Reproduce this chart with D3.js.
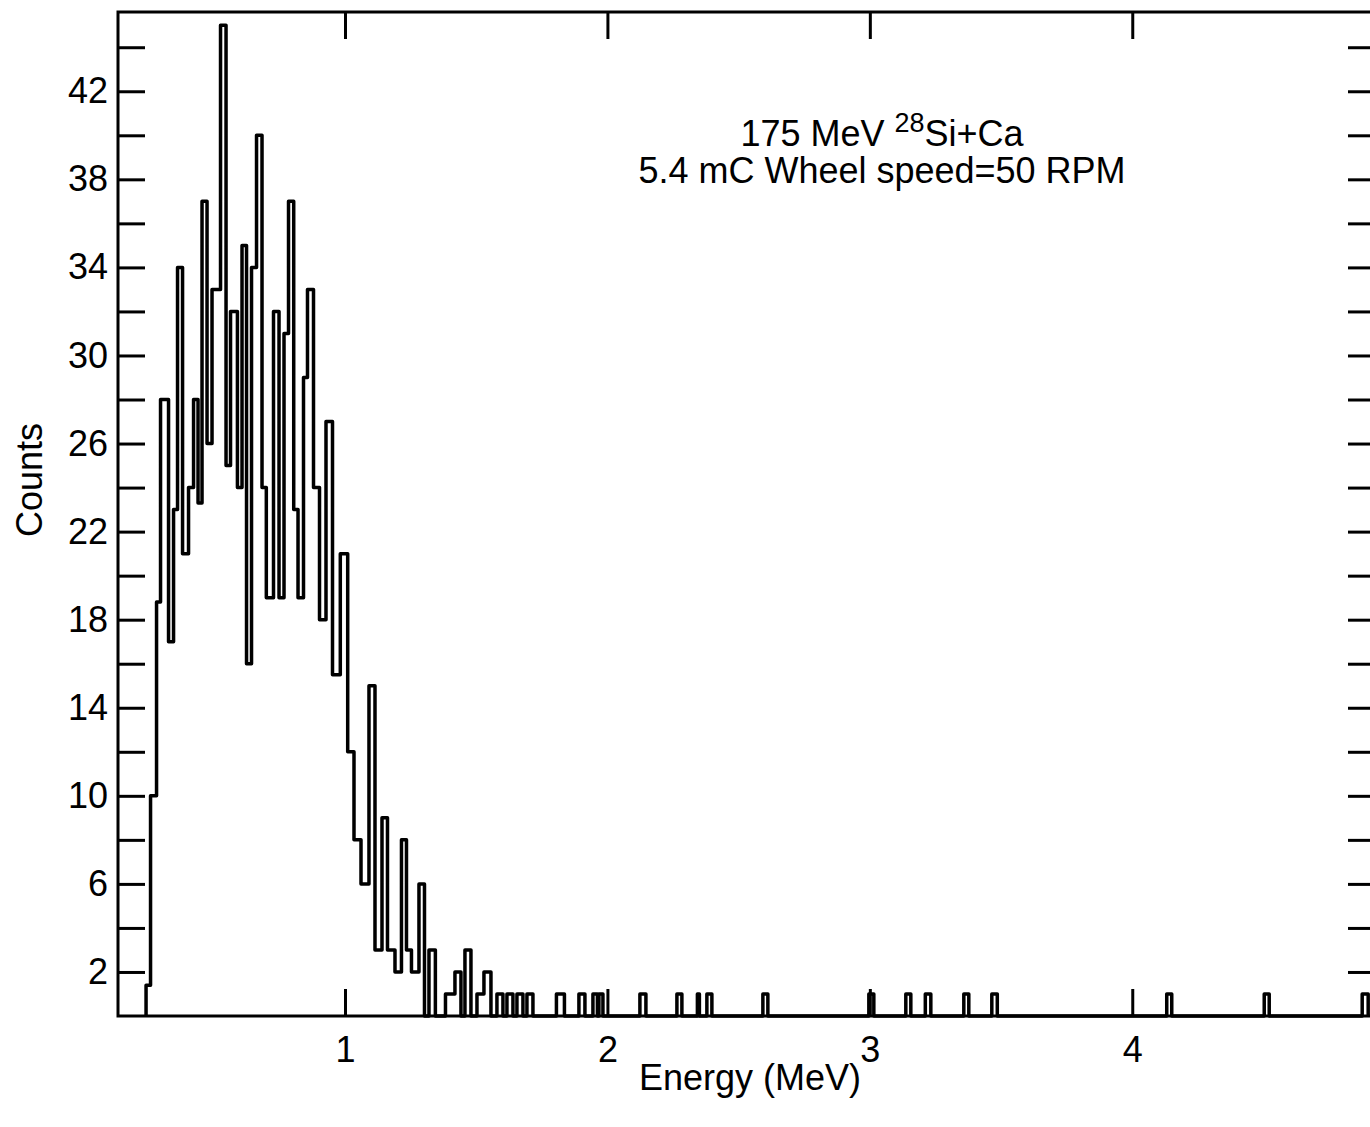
<!DOCTYPE html>
<html>
<head>
<meta charset="utf-8">
<script src="https://cdn.jsdelivr.net/npm/d3@7"></script>
<style>
  html, body { margin: 0; padding: 0; background: #fff; }
  svg { display: block; }
  text { font-family: "Liberation Sans", Arial, Helvetica, sans-serif; fill: #000; }
</style>
</head>
<body>
<svg id="chart" width="1370" height="1127"></svg>
<script>
// ---- Data -------------------------------------------------------------
// Main body of the spectrum: contiguous bins, left edges in MeV (last entry closes the last bin)
const bulkEdges = [
  0.2419, 0.2590, 0.2819, 0.2971, 0.3276, 0.3467, 0.3619, 0.3810, 0.4038, 0.4229,
  0.4400, 0.4552, 0.4743, 0.4933, 0.5257, 0.5467, 0.5638, 0.5901, 0.6076, 0.6248,
  0.6438, 0.6629, 0.6838, 0.7002, 0.7276, 0.7486, 0.7676, 0.7848, 0.8046, 0.8210,
  0.8419, 0.8571, 0.8800, 0.9029, 0.9276, 0.9524, 0.9821, 1.0103, 1.0343, 1.0610,
  1.0914, 1.1143, 1.1410, 1.1619, 1.1905, 1.2152, 1.2343, 1.2533, 1.2819, 1.3029,
  1.3200, 1.3444, 1.3829, 1.4190, 1.4419, 1.4571, 1.4800, 1.5029, 1.5295, 1.5562
];
const bulkCounts = [
  1.4, 10, 18.8, 28, 17, 23, 34, 21, 24, 28,
  23.3, 37, 26, 33, 45, 25, 32, 24, 35, 16,
  34, 40, 24, 19, 32, 19, 31, 37, 23, 19,
  29, 33, 24, 18, 27, 15.5, 21, 12, 8, 6,
  15, 3, 9, 3, 2, 8, 3, 2, 6, 0,
  3, 0, 1, 2, 0, 3, 0, 1, 2
];

// High-energy tail: isolated bins (low edge, high edge, counts)
const tailLo = [1.5790, 1.6171, 1.6552, 1.6933, 1.8057, 1.8914, 1.9448, 1.9676, 2.1238, 2.2648,
                2.3429, 2.3790, 2.5924, 2.9962, 3.1371, 3.2114, 3.3581, 3.4648, 4.1314, 4.5029, 4.8762];
const tailHi = [1.6019, 1.6400, 1.6781, 1.7162, 1.8362, 1.9143, 1.9619, 1.9829, 2.1467, 2.2838,
                2.3505, 2.3981, 2.6114, 3.0152, 3.1562, 3.2324, 3.3771, 3.4857, 4.1505, 4.5219, 4.8990];
const tailCounts = [1, 1, 1, 1, 1, 1, 1, 1, 1, 1,
                    1, 1, 1, 1, 1, 1, 1, 1, 1, 1, 1];

// Axis ranges and ticks
const energyRange = [0.135, 4.925];
const countRange = [0, 45.6];
const xTicks = [1, 2, 3, 4];
const yTicks = [2, 4, 6, 8, 10, 12, 14, 16, 18, 20, 22, 24, 26, 28, 30, 32, 34, 36, 38, 40, 42, 44];
const yTickLabels = [2, 6, 10, 14, 18, 22, 26, 30, 34, 38, 42];

const titleLine1 = ["175 MeV ", "28", "Si+Ca"];
const titleLine2 = "5.4 mC Wheel speed=50 RPM";
const xTitle = "Energy (MeV)";
const yTitle = "Counts";

// ---- Layout -----------------------------------------------------------
const frame = { left: 118, right: 1375, top: 12, bottom: 1016 };
const tickLen = 27;
const ink = "#000";

const svg = d3.select("#chart");

const x = d3.scaleLinear().domain(energyRange).range([frame.left, frame.right]);
const y = d3.scaleLinear().domain(countRange).range([frame.bottom, frame.top]);

// ---- Histogram outline --------------------------------------------------
const edges = bulkEdges.slice();
const counts = bulkCounts.slice();
tailLo.forEach((lo, i) => {
  const last = edges[edges.length - 1];
  if (lo > last) { counts.push(0); edges.push(lo); }
  counts.push(tailCounts[i]);
  edges.push(tailHi[i]);
});

const pts = [[edges[0], 0]];
counts.forEach((c, i) => pts.push([edges[i], c]));
pts.push([edges[edges.length - 1], 0]);

const step = d3.line()
  .x(d => x(d[0]))
  .y(d => y(d[1]))
  .curve(d3.curveStepAfter);

// ---- Frame -------------------------------------------------------------
svg.append("rect")
  .attr("x", frame.left).attr("y", frame.top)
  .attr("width", frame.right - frame.left)
  .attr("height", frame.bottom - frame.top)
  .attr("fill", "none").attr("stroke", ink).attr("stroke-width", 3);

svg.append("path")
  .attr("d", step(pts))
  .attr("fill", "none")
  .attr("stroke", ink)
  .attr("stroke-width", 3.5)
  .attr("stroke-linejoin", "round");

// ---- Axes (inward ticks on all four sides) -------------------------------
function styleAxis(g) {
  g.select(".domain").remove();
  g.selectAll(".tick line").attr("stroke", ink).attr("stroke-width", 3);
  g.selectAll(".tick text")
    .attr("fill", ink)
    .style("font-family", '"Liberation Sans", Arial, Helvetica, sans-serif')
    .style("font-size", "36px");
}

svg.append("g")
  .attr("transform", `translate(${frame.left},0)`)
  .call(d3.axisLeft(y).tickValues(yTicks).tickSizeInner(-tickLen).tickSizeOuter(0)
    .tickPadding(10).tickFormat(d => yTickLabels.includes(d) ? String(d) : ""))
  .call(styleAxis);

svg.append("g")
  .attr("transform", `translate(${frame.right},0)`)
  .call(d3.axisRight(y).tickValues(yTicks).tickSizeInner(-tickLen).tickSizeOuter(0)
    .tickFormat(() => ""))
  .call(styleAxis);

svg.append("g")
  .attr("transform", `translate(0,${frame.bottom})`)
  .call(d3.axisBottom(x).tickValues(xTicks).tickSizeInner(-tickLen).tickSizeOuter(0)
    .tickPadding(20).tickFormat(d3.format("d")))
  .call(styleAxis);

svg.append("g")
  .attr("transform", `translate(0,${frame.top})`)
  .call(d3.axisTop(x).tickValues(xTicks).tickSizeInner(-tickLen).tickSizeOuter(0)
    .tickFormat(() => ""))
  .call(styleAxis);

// ---- Titles ------------------------------------------------------------
const t1 = svg.append("text")
  .attr("x", 882).attr("y", 146)
  .attr("text-anchor", "middle")
  .style("font-size", "36px");
t1.append("tspan").text(titleLine1[0]);
t1.append("tspan").attr("dy", -14).style("font-size", "27px").text(titleLine1[1]);
t1.append("tspan").attr("dy", 14).text(titleLine1[2]);

svg.append("text")
  .attr("x", 882).attr("y", 183)
  .attr("text-anchor", "middle")
  .style("font-size", "36px")
  .text(titleLine2);

svg.append("text")
  .attr("x", 750).attr("y", 1090)
  .attr("text-anchor", "middle")
  .style("font-size", "36px")
  .text(xTitle);

svg.append("text")
  .attr("transform", "translate(42,480) rotate(-90)")
  .attr("text-anchor", "middle")
  .style("font-size", "36px")
  .text(yTitle);
</script>
</body>
</html>
